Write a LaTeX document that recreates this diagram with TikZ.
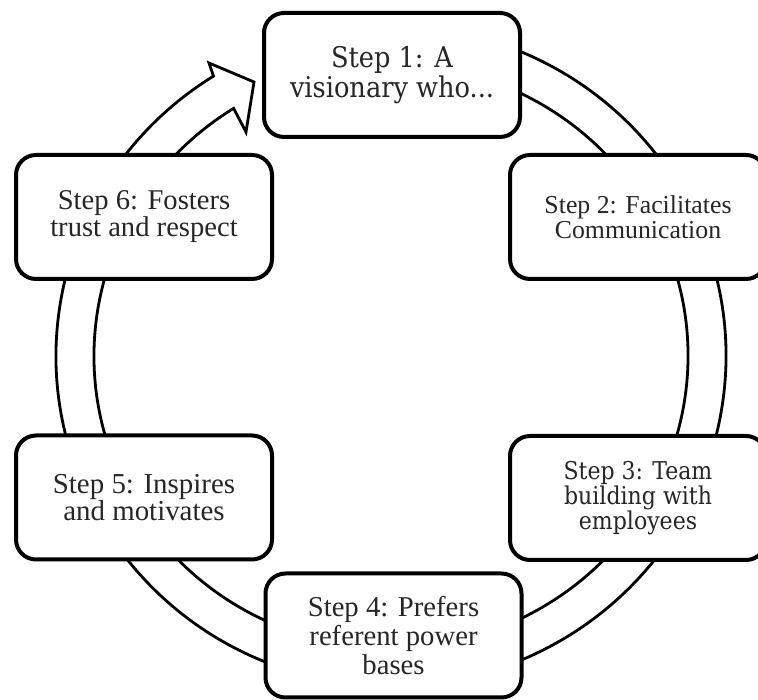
\documentclass[tikz,border=0pt]{standalone}
\usepackage{fontspec}
\setmainfont{Liberation Serif}
\newfontfamily\slabfont{DejaVu Serif Condensed}
\usetikzlibrary{calc}
\begin{document}
\begin{tikzpicture}[x=1pt,y=1pt,
  stepbox/.style={draw=black, line width=4pt, rounded corners=20pt, fill=white,
    align=center, text=black!85, inner sep=0pt, minimum width=256pt, minimum height=124pt},
  band/.style={draw=black, line width=2.8pt, fill=white, line join=miter}]
\useasboundingbox (0,0) rectangle (758,700);
\clip (0,0) rectangle (758,700);

% centre of the ring and the arrowhead points
\coordinate (C) at (391,344);
\coordinate (barbA) at (209,637);
\coordinate (tip) at (254,618);
\coordinate (barbB) at (246,568);

% hollow ring running clockwise, ending in an arrowhead at the first step
\draw[band] ($(C)+(80:335 and 330)$)
  arc[start angle=80, end angle=-238, x radius=335, y radius=330]
  -- (barbA) -- (tip) -- (barbB) -- ($(C)+(122:297 and 292)$)
  arc[start angle=122, end angle=440, x radius=297, y radius=292] -- cycle;

% the six steps
\node[stepbox, font=\slabfont\fontsize{28.5}{30}\selectfont] (s1) at (392,625)
  {Step 1: A\\visionary who...};
\node[stepbox, font=\fontsize{25.8}{25}\selectfont] (s2) at (638,483)
  {Step 2: Facilitates\\Communication};
\node[stepbox, font=\slabfont\fontsize{24.5}{25}\selectfont] (s3) at (638,202)
  {Step 3: Team\\building with\\employees};
\node[stepbox, font=\fontsize{28.7}{29}\selectfont] (s4) at (393.5,64.5)
  {Step 4: Prefers\\referent power\\bases};
\node[stepbox, font=\fontsize{28.9}{27}\selectfont] (s5) at (144,202.5)
  {Step 5: Inspires\\and motivates};
\node[stepbox, font=\fontsize{28.6}{27}\selectfont] (s6) at (144,483)
  {Step 6: Fosters\\trust and respect};
\end{tikzpicture}
\end{document}
